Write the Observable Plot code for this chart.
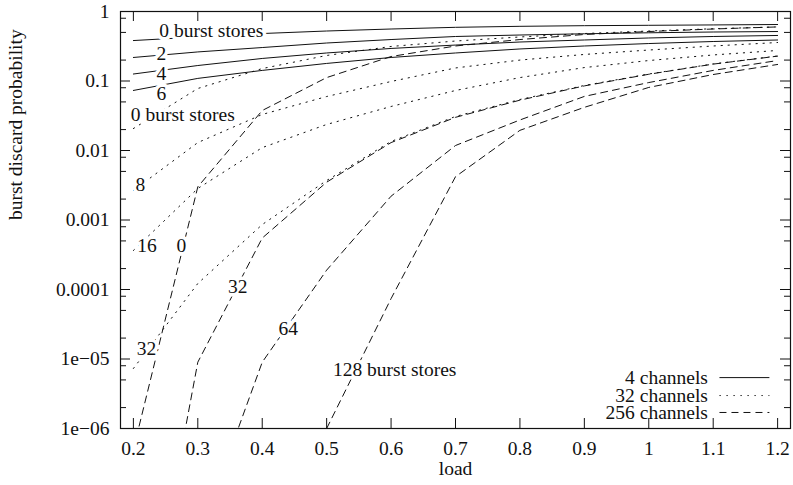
<!DOCTYPE html>
<html>
<head>
<meta charset="utf-8">
<script src="https://cdn.jsdelivr.net/npm/d3@7"></script>
<script src="https://cdn.jsdelivr.net/npm/@observablehq/plot@0.6"></script>
<style>
  html, body { margin: 0; padding: 0; background: #fff; }
  #chart { width: 793px; height: 485px; }
  #chart svg, #chart svg text { font-family: "Liberation Serif", "Times New Roman", serif !important; }
</style>
</head>
<body>
<div id="chart"></div>
<script>
// ---------- data ----------
const loads = [0.2, 0.3, 0.4, 0.5, 0.6, 0.7, 0.8, 0.9, 1.0, 1.1, 1.2];

// 4 channels (solid)
const ch4_stores0 = [0.382, 0.43, 0.482, 0.524, 0.56, 0.592, 0.612, 0.625, 0.633, 0.641, 0.65];
const ch4_stores2 = [0.218, 0.262, 0.303, 0.352, 0.395, 0.437, 0.459, 0.478, 0.494, 0.507, 0.515];
const ch4_stores4 = [0.126, 0.167, 0.211, 0.253, 0.294, 0.329, 0.364, 0.389, 0.416, 0.437, 0.452];
const ch4_stores6 = [0.0731, 0.109, 0.142, 0.179, 0.218, 0.253, 0.289, 0.319, 0.346, 0.37, 0.389];

// 32 channels (dotted)
const ch32_stores0 = [0.0207, 0.078, 0.151, 0.233, 0.314, 0.376, 0.43, 0.482, 0.524, 0.565, 0.6];
const ch32_stores8 = [0.00266, 0.013, 0.033, 0.0598, 0.0984, 0.154, 0.2, 0.241, 0.279, 0.319, 0.358];
const ch32_stores16 = [3.64e-4, 2.84e-3, 0.011, 0.0237, 0.043, 0.073, 0.112, 0.156, 0.197, 0.237, 0.275];
const ch32_stores32 = [7.3e-6, 1.22e-4, 8.6e-4, 3.7e-3, 0.0135, 0.0309, 0.0542, 0.0862, 0.126, 0.176, 0.229];

// 256 channels (dashed)
const ch256_stores0 = [5e-7, 3e-3, 0.0376, 0.112, 0.225, 0.319, 0.395, 0.467, 0.515, 0.56, 0.6];
const ch256_stores32 = [1e-10, 9e-6, 5.5e-4, 3.5e-3, 0.013, 0.03, 0.053, 0.085, 0.125, 0.175, 0.228];
const ch256_stores64 = [null, 2.5e-8, 9e-6, 1.9e-4, 2.2e-3, 0.0118, 0.0275, 0.06, 0.095, 0.142, 0.197];
const ch256_stores128 = [null, null, null, 1e-6, 7.4e-5, 4.2e-3, 0.0195, 0.0418, 0.0808, 0.124, 0.173];

// ticks
const xTicks = [0.2, 0.3, 0.4, 0.5, 0.6, 0.7, 0.8, 0.9, 1.0, 1.1, 1.2];
const xTickLabels = ["0.2", "0.3", "0.4", "0.5", "0.6", "0.7", "0.8", "0.9", "1", "1.1", "1.2"];
const yTicks = [1e-6, 1e-5, 1e-4, 1e-3, 1e-2, 1e-1, 1];
const yTickLabels = ["1e\u221206", "1e\u221205", "0.0001", "0.001", "0.01", "0.1", "1"];
const yMinorTicks = [2e-6, 5e-6, 8e-6, 2e-5, 5e-5, 8e-5, 2e-4, 5e-4, 8e-4,
                     2e-3, 5e-3, 8e-3, 2e-2, 5e-2, 8e-2, 0.2, 0.5, 0.8];

// in-plot curve labels (anchored in data units)
const curveLabels = [
  {text: "0 burst stores", load: 0.321, p: 0.524},
  {text: "2", load: 0.2434, p: 0.246},
  {text: "4", load: 0.2434, p: 0.128},
  {text: "6", load: 0.2434, p: 0.0655},
  {text: "0 burst stores", load: 0.2768, p: 0.033},
  {text: "8", load: 0.2109, p: 0.00317},
  {text: "16", load: 0.2212, p: 4.2e-4},
  {text: "0", load: 0.2745, p: 4.2e-4},
  {text: "32", load: 0.362, p: 1.08e-4},
  {text: "32", load: 0.2202, p: 1.4e-5},
  {text: "64", load: 0.4404, p: 2.7e-5},
  {text: "128 burst stores", load: 0.6056, p: 7.1e-6}
];

const legendNames = ["4 channels", "32 channels", "256 channels"];

// ---------- build ----------
const series = [
  {group: "4 channels", stores: 0, values: ch4_stores0},
  {group: "4 channels", stores: 2, values: ch4_stores2},
  {group: "4 channels", stores: 4, values: ch4_stores4},
  {group: "4 channels", stores: 6, values: ch4_stores6},
  {group: "32 channels", stores: 0, values: ch32_stores0},
  {group: "32 channels", stores: 8, values: ch32_stores8},
  {group: "32 channels", stores: 16, values: ch32_stores16},
  {group: "32 channels", stores: 32, values: ch32_stores32},
  {group: "256 channels", stores: 0, values: ch256_stores0},
  {group: "256 channels", stores: 32, values: ch256_stores32},
  {group: "256 channels", stores: 64, values: ch256_stores64},
  {group: "256 channels", stores: 128, values: ch256_stores128}
];
const rows = series.flatMap(s => loads.map((x, i) => ({group: s.group, stores: s.stores, load: x, p: s.values[i]})));

const W = 793, H = 485;
const mL = 120, mR = 3, mT = 11, mB = 57;
const plotW = W - mL - mR, plotH = H - mT - mB;
const ink = "#111";
const FS = 19.5;
const FF = "'Liberation Serif', 'Times New Roman', serif";
const dashes = {"4 channels": null, "32 channels": "1.3,5.7", "256 channels": "7,5"};

const lineMarks = legendNames.map(g =>
  Plot.line(rows.filter(d => d.group === g), {
    x: "load", y: "p", z: "stores",
    stroke: ink, strokeWidth: 1, clip: true,
    strokeDasharray: dashes[g]
  })
);

// legend rows (positions in data units, bottom-right corner of the frame)
const legendY = [5.4e-6, 2.98e-6, 1.7e-6];
const legend = legendNames.map((name, i) => ({name, y: legendY[i]}));
const legendMarks = [
  Plot.text(legend, {x: () => 1.0919, y: "y", text: "name", textAnchor: "end", fill: ink, fontSize: FS, fontFamily: FF})
].concat(legend.map(d => Plot.ruleY([d], {y: "y", x1: () => 1.1105, x2: () => 1.188, stroke: ink, strokeWidth: 1, strokeDasharray: dashes[d.name]})));

const chart = Plot.plot({
  width: W, height: H,
  marginLeft: mL, marginRight: mR, marginTop: mT, marginBottom: mB,
  style: `font-family: ${FF}; font-size: ${FS}px; background: #fff; color: ${ink};`,
  x: {domain: [0.18, 1.22]},
  y: {type: "log", domain: [1e-6, 1]},
  marks: [
    ...lineMarks,
    // label halos then labels
    Plot.text(curveLabels, {x: "load", y: "p", text: "text", fill: "white", stroke: "white", strokeWidth: 7, fontSize: FS, fontFamily: FF}),
    Plot.text(curveLabels, {x: "load", y: "p", text: "text", fill: ink, fontSize: FS, fontFamily: FF}),
    ...legendMarks,
    // inward tick marks (mirrored on all four sides)
    Plot.ruleX(xTicks, {insetTop: plotH - 10, stroke: ink, strokeWidth: 1}),
    Plot.ruleX(xTicks, {insetBottom: plotH - 10, stroke: ink, strokeWidth: 1}),
    Plot.ruleY(yTicks, {insetRight: plotW - 10, stroke: ink, strokeWidth: 1}),
    Plot.ruleY(yTicks, {insetLeft: plotW - 10, stroke: ink, strokeWidth: 1}),
    Plot.ruleY(yMinorTicks, {insetRight: plotW - 6, stroke: ink, strokeWidth: 1}),
    Plot.ruleY(yMinorTicks, {insetLeft: plotW - 6, stroke: ink, strokeWidth: 1}),
    Plot.frame({stroke: ink, strokeWidth: 1.2}),
    // tick labels
    Plot.axisX({ticks: xTicks, tickSize: 0, tickPadding: 13, label: null, fontSize: FS, fontFamily: FF,
      tickFormat: d => xTickLabels[xTicks.findIndex(t => Math.abs(t - d) < 1e-9)]}),
    Plot.axisY({ticks: yTicks, tickSize: 0, tickPadding: 11, label: null, fontSize: FS, fontFamily: FF,
      tickFormat: d => yTickLabels[yTicks.findIndex(t => Math.abs(Math.log10(t) - Math.log10(d)) < 1e-9)]}),
    // axis titles
    Plot.text(["load"], {frameAnchor: "bottom", dy: 46, text: d => d, fill: ink, fontSize: FS, fontFamily: FF}),
    Plot.text(["burst discard probability"], {frameAnchor: "left", dx: -105, rotate: -90, text: d => d, fill: ink, fontSize: FS, fontFamily: FF})
  ]
});
document.getElementById("chart").appendChild(chart);
</script>
</body>
</html>
